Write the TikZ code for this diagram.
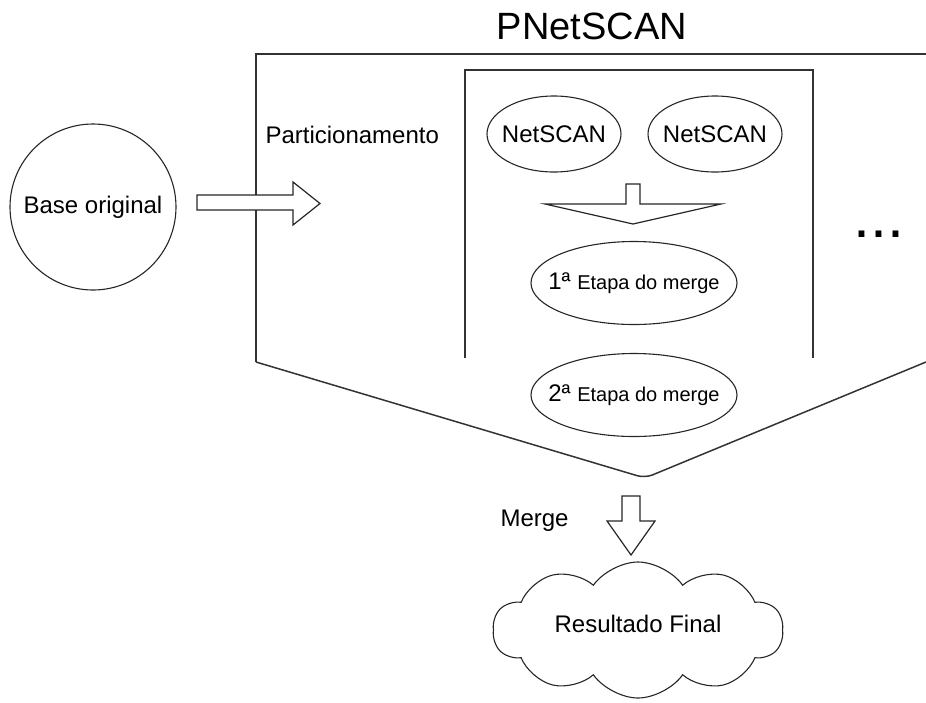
\documentclass[tikz,border=0pt]{standalone}
\usepackage{fontspec}
\setmainfont{Liberation Sans}
\usetikzlibrary{shapes.geometric,shapes.symbols}

\begin{document}
\begin{tikzpicture}[x=1pt, y=-1pt, every node/.style={font=\fontsize{24}{28}\selectfont}, frame/.style={draw=black!80, line width=1.5pt}, proc/.style={ellipse, draw=black!85, line width=1.1pt, minimum width=134pt, minimum height=76pt}, stage/.style={proc, minimum width=206pt, minimum height=83pt}, blockarrow/.style={draw=black!85, fill=white, line width=1.2pt, line join=miter}]
	\useasboundingbox (0,0) rectangle (926,702);
	\node[anchor=base, font=\fontsize{38}{44}\selectfont] (title) at (592,39) {PNetSCAN};
	\draw[frame] (926,54) -- (256,54) -- (256,362);
	\draw[frame, rounded corners=8pt] (256,362) -- (645,478) -- (926,362);
	\draw[frame] (465,358) -- (465,70) -- (813,70) -- (813,358);
	\node[circle, draw=black!85, line width=1.1pt, minimum size=166pt, inner sep=0pt] (base) at (93,207) {Base original};
	\draw[blockarrow] (197,195) -- (293,195) -- (293,182) -- (320,203.5) -- (293,225) -- (293,210) -- (197,210) -- cycle;
	\node[anchor=base west] (part) at (262,143) {Particionamento};
	\node[proc, label=center:NetSCAN] (scanA) at (554,134) {};
	\node[proc, label=center:NetSCAN] (scanB) at (715,134) {};
	\draw[blockarrow] (626,184) -- (640,184) -- (640,204) -- (721,204) -- (633,224) -- (545,204) -- (626,204) -- cycle;
	\node[stage, label={center:{\fontsize{24}{28}\selectfont 1ª} \fontsize{20}{24}\selectfont Etapa do merge}] (first) at (634,283) {};
	\node[stage, label={center:{\fontsize{24}{28}\selectfont 2ª} \fontsize{20}{24}\selectfont Etapa do merge}] (second) at (634,395) {};
	\node[anchor=base, font=\fontsize{61}{61}\selectfont] (more) at (879,237) {...};
	\node[anchor=base west] (merge) at (497,526) {Merge};
	\draw[blockarrow] (622,496) -- (640,496) -- (640,521) -- (655,521) -- (631,555) -- (607,521) -- (622,521) -- cycle;
	\node[cloud, draw=black!85, line width=1.1pt, cloud puffs=10, cloud puff arc=110, minimum width=290pt, minimum height=136pt, label={[yshift=6pt]center:Resultado Final}] (final) at (638,630) {};
\end{tikzpicture}
\end{document}
